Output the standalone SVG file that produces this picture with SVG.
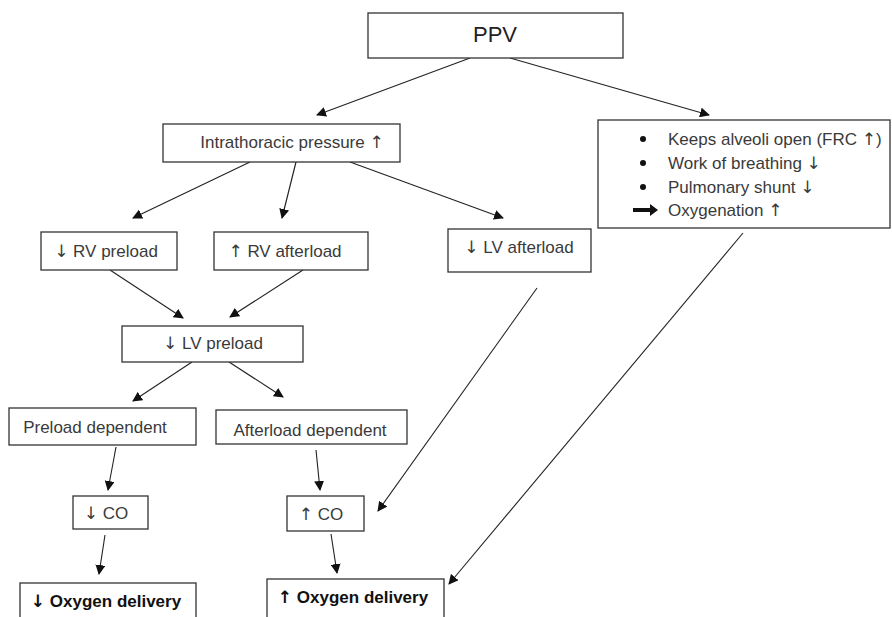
<svg xmlns="http://www.w3.org/2000/svg" width="892" height="617" viewBox="0 0 892 617">
<style>
.box{fill:#fff;stroke:#333;stroke-width:1.3}
.t{font-family:"Liberation Sans",Arial,sans-serif;font-size:17px;fill:#3a3a3a}
.ar{font-family:"DejaVu Sans",sans-serif;fill:#3a3a3a}
.b{font-weight:bold;fill:#111}
.b .ar{fill:#111;font-weight:bold}
.c{stroke:#222;stroke-width:1.1;fill:none;marker-end:url(#ah)}
</style>
<defs>
<marker id="ah" viewBox="0 0 10 10" refX="9" refY="5" markerWidth="10" markerHeight="10" markerUnits="userSpaceOnUse" orient="auto">
<path d="M0,0 L10,5 L0,10 z" fill="#111"/>
</marker>
</defs>
<rect width="892" height="617" fill="#fff"/>
<g id="connectors">
<line class="c" x1="470" y1="58" x2="317" y2="115"/>
<line class="c" x1="510" y1="58" x2="709" y2="115"/>
<line class="c" x1="250" y1="162" x2="133" y2="218"/>
<line class="c" x1="296" y1="162" x2="282" y2="218"/>
<line class="c" x1="350" y1="162" x2="503" y2="218"/>
<line class="c" x1="110" y1="270" x2="183" y2="318"/>
<line class="c" x1="303" y1="270" x2="230" y2="317"/>
<line class="c" x1="192" y1="362" x2="133" y2="401"/>
<line class="c" x1="229" y1="362" x2="283" y2="397"/>
<line class="c" x1="116" y1="447" x2="108" y2="490"/>
<line class="c" x1="105" y1="535" x2="99" y2="574"/>
<line class="c" x1="316" y1="450" x2="320" y2="490"/>
<line class="c" x1="331" y1="534" x2="337" y2="573"/>
<line class="c" x1="537" y1="288" x2="378" y2="511"/>
<line class="c" x1="743" y1="233" x2="449" y2="584"/>
</g>
<g id="ppv">
<rect class="box" x="368" y="13" width="255" height="45"/>
<text class="t" x="495" y="42" text-anchor="middle" style="font-size:22px;fill:#222">PPV</text>
</g>
<g id="intrathoracic">
<rect class="box" x="163" y="124" width="237" height="38"/>
<text class="t" x="292" y="148" text-anchor="middle">Intrathoracic pressure <tspan class="ar">↑</tspan></text>
</g>
<g id="benefits">
<rect class="box" x="598" y="120" width="292" height="108"/>
<circle cx="643" cy="139" r="3" fill="#111"/>
<circle cx="643" cy="163" r="3" fill="#111"/>
<circle cx="643" cy="187" r="3" fill="#111"/>
<path d="M633,208 H650 V204 L658,210 L650,216 V212 H633 z" fill="#111"/>
<text class="t" x="668" y="145">Keeps alveoli open (FRC <tspan class="ar">↑</tspan>)</text>
<text class="t" x="668" y="169">Work of breathing <tspan class="ar">↓</tspan></text>
<text class="t" x="668" y="193">Pulmonary shunt <tspan class="ar">↓</tspan></text>
<text class="t" x="668" y="216">Oxygenation <tspan class="ar">↑</tspan></text>
</g>
<g id="rv-preload">
<rect class="box" x="41" y="232" width="136" height="38"/>
<text class="t" x="106" y="257" text-anchor="middle"><tspan class="ar">↓</tspan> RV preload</text>
</g>
<g id="rv-afterload">
<rect class="box" x="214" y="232" width="154" height="38"/>
<text class="t" x="285" y="257" text-anchor="middle"><tspan class="ar">↑</tspan> RV afterload</text>
</g>
<g id="lv-afterload">
<rect class="box" x="448" y="229" width="143" height="43"/>
<text class="t" x="519" y="253" text-anchor="middle"><tspan class="ar">↓</tspan> LV afterload</text>
</g>
<g id="lv-preload">
<rect class="box" x="122" y="326" width="181" height="36"/>
<text class="t" x="213" y="349" text-anchor="middle"><tspan class="ar">↓</tspan> LV preload</text>
</g>
<g id="preload-dependent">
<rect class="box" x="9" y="408" width="187" height="37"/>
<text class="t" x="95" y="433" text-anchor="middle">Preload dependent</text>
</g>
<g id="afterload-dependent">
<rect class="box" x="216" y="410" width="191" height="34"/>
<text class="t" x="310" y="436" text-anchor="middle">Afterload dependent</text>
</g>
<g id="co-down">
<rect class="box" x="73" y="496" width="75" height="33"/>
<text class="t" x="106" y="519" text-anchor="middle"><tspan class="ar">↓</tspan> CO</text>
</g>
<g id="co-up">
<rect class="box" x="287" y="496" width="77" height="35"/>
<text class="t" x="321" y="520" text-anchor="middle"><tspan class="ar">↑</tspan> CO</text>
</g>
<g id="o2-down">
<rect class="box" x="20" y="583" width="176" height="50"/>
<text class="t b" x="106" y="607" text-anchor="middle"><tspan class="ar">↓</tspan> Oxygen delivery</text>
</g>
<g id="o2-up">
<rect class="box" x="267" y="579" width="177" height="50"/>
<text class="t b" x="353" y="603" text-anchor="middle"><tspan class="ar">↑</tspan> Oxygen delivery</text>
</g>
</svg>
